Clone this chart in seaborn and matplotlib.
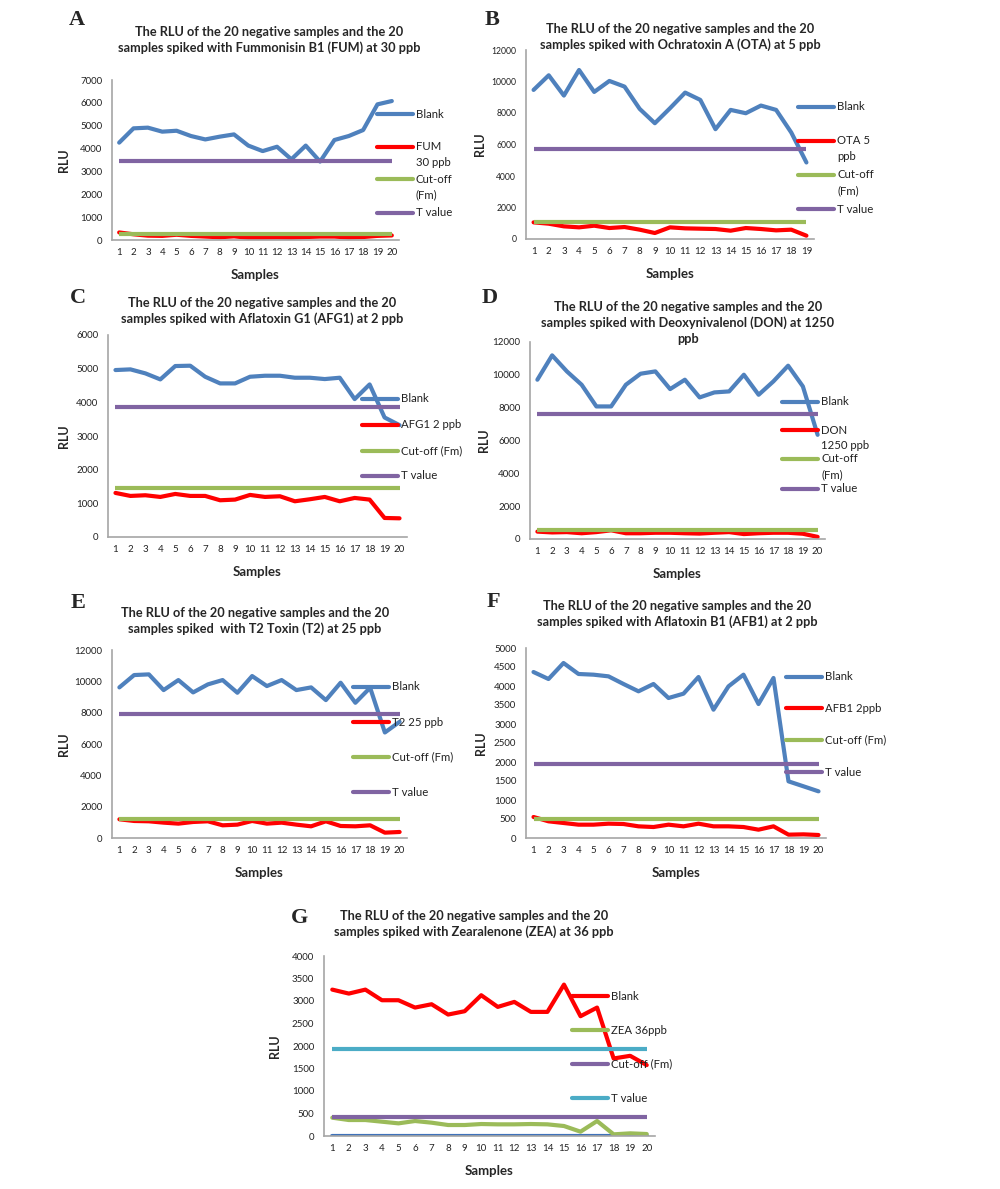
import matplotlib
matplotlib.use("Agg")
import matplotlib.pyplot as plt
from matplotlib.lines import Line2D
import seaborn as sns

# DATA
samples = list(range(1, 21))
samples_b = list(range(1, 20))

# A - FUM
a_blank = [4260, 4885, 4915, 4740, 4780, 4550, 4400, 4520, 4620, 4130,
           3890, 4080, 3530, 4130, 3430, 4375, 4550, 4810, 5935, 6080]
a_spiked = [330, 250, 190, 180, 230, 180, 150, 120, 160, 100,
            100, 110, 100, 130, 150, 150, 110, 130, 180, 200]
a_cutoff = 262
a_tvalue = 3455

# B - OTA (only 19 samples shown)
b_blank = [9465, 10394, 9106, 10732, 9338, 10035, 9676, 8261, 7352, 8303,
           9296, 8831, 6972, 8197, 7986, 8472, 8197, 6761, 4859]
b_spiked = [1056, 972, 803, 740, 845, 697, 760, 592, 380, 740,
            676, 655, 634, 528, 697, 634, 549, 592, 211]
b_cutoff = 1056
b_tvalue = 5746

# C - AFG1
c_blank = [4959, 4979, 4860, 4681, 5078, 5088, 4760, 4562, 4562, 4760,
           4790, 4790, 4731, 4731, 4691, 4731, 4096, 4532, 3550, 3322]
c_spiked = [1309, 1220, 1240, 1190, 1279, 1220, 1220, 1091, 1111, 1250,
            1190, 1210, 1061, 1121, 1190, 1061, 1160, 1111, 565, 555]
c_cutoff = 1448
c_tvalue = 3858

# D - DON
d_blank = [9702, 11186, 10210, 9397, 8075, 8075, 9397, 10068, 10210, 9132,
           9702, 8624, 8929, 8990, 10007, 8786, 9600, 10556, 9295, 6346]
d_spiked = [450, 400, 420, 350, 420, 530, 350, 350, 380, 380,
            350, 330, 380, 420, 300, 350, 380, 380, 320, 130]
d_cutoff = 549
d_tvalue = 7586

# E - T2
e_blank = [9613, 10401, 10444, 9442, 10082, 9293, 9805, 10082, 9272, 10337,
           9698, 10082, 9442, 9613, 8803, 9911, 8632, 9591, 6735, 7417]
e_spiked = [1194, 1087, 1066, 980, 917, 1023, 1066, 810, 853, 1087,
            917, 980, 853, 746, 1066, 767, 746, 810, 341, 384]
e_cutoff = 1236
e_tvalue = 7908

# F - AFB1
f_blank = [4368, 4184, 4605, 4316, 4298, 4254, 4053, 3860, 4053, 3684,
           3798, 4237, 3377, 3991, 4298, 3526, 4211, 1491, 1360, 1228]
f_spiked = [553, 439, 395, 351, 351, 377, 368, 307, 289, 351,
            307, 377, 307, 307, 289, 219, 307, 88, 96, 79]
f_cutoff = 509
f_tvalue = 1947

# G - ZEA (extra unnamed series at zero)
g_zero = [0, 0, 0, 0, 0, 0, 0, 0, 0, 0, 0, 0, 0, 0, 0, 0, 0, 0, 0, 0]
g_blank = [3253, 3165, 3253, 3017, 3017, 2854, 2928, 2699, 2773, 3128,
           2869, 2980, 2758, 2758, 3364, 2662, 2854, 1723, 1782, 1575]
g_spiked = [407, 355, 355, 318, 281, 333, 296, 244, 244, 266,
            259, 259, 266, 259, 222, 96, 333, 37, 59, 44]
g_cutoff = 414
g_tvalue = 1944

BLUE = "#4F81BD"
RED = "#FF0000"
GREEN = "#9BBB59"
PURPLE = "#8064A2"
CYAN = "#4BACC6"

sns.set_style("white")
plt.rcParams["font.family"] = ["Lato", "DejaVu Sans"]

W, H = 1000, 1189
fig = plt.figure(figsize=(W / 100, H / 100), dpi=100)


def fx(x):
    return x / W


def fy(y):
    return 1 - y / H


def make_panel(box, ymax, ystep, title, title_xy, letter, letter_xy,
               legend, leg_x, rlu_x, ytick_size=7):
    x0, x1, ytop, ybot = box
    ax = fig.add_axes([fx(x0), fy(ybot), (x1 - x0) / W, (ybot - ytop) / H])
    ax.set_ylim(0, ymax)
    ax.set_yticks(range(0, ymax + 1, ystep))
    for side in ["top", "right"]:
        ax.spines[side].set_visible(False)
    for side in ["left", "bottom"]:
        ax.spines[side].set_color("#A6A6A6")
        ax.spines[side].set_linewidth(1.2)
    ax.tick_params(axis="both", length=0, colors="#222222")
    ax.tick_params(axis="x", labelsize=7, pad=6)
    ax.tick_params(axis="y", labelsize=ytick_size, pad=7)
    ax.set_xlabel("Samples", fontsize=9.5, fontweight="bold")
    ax.set_ylabel("RLU", fontsize=9, fontweight="bold")
    ax.xaxis.set_label_coords(0.5, -29 / (ybot - ytop))
    ax.yaxis.set_label_coords(-(x0 - rlu_x) / (x1 - x0), 0.5)

    tx, ty = title_xy
    fig.text(fx(tx), fy(ty), title, ha="center", va="center",
             fontsize=9.2, fontweight="bold", linespacing=1.35)
    lx, ly = letter_xy
    fig.text(fx(lx), fy(ly), letter, ha="center", va="center",
             fontsize=16, fontweight="bold", family="Liberation Serif")

    for label_lines, color, y in legend:
        fig.add_artist(Line2D([fx(leg_x), fx(leg_x + 36)], [fy(y), fy(y)],
                              color=color, lw=3, solid_capstyle="round"))
        for i, line in enumerate(label_lines):
            fig.text(fx(leg_x + 39), fy(y + i * 16), line, ha="left",
                     va="center", fontsize=8.2, color="#222222")
    return ax


def draw(ax, xs, blank, spiked, cutoff, tvalue, cols=(BLUE, RED, GREEN, PURPLE)):
    sns.lineplot(x=xs, y=blank, ax=ax, color=cols[0], linewidth=3)
    sns.lineplot(x=xs, y=spiked, ax=ax, color=cols[1], linewidth=3)
    ax.hlines(cutoff, xs[0], xs[-1], color=cols[2], linewidth=3)
    ax.hlines(tvalue, xs[0], xs[-1], color=cols[3], linewidth=3)
    ax.set_xticks(xs)
    ax.set_xlim(xs[0] - 0.5, xs[-1] + 0.5)


T1 = "The RLU of the 20 negative samples and the 20\n"

# A
ax = make_panel((112, 399, 80, 240), 7000, 1000,
                T1 + "samples spiked with Fummonisin B1 (FUM) at 30 ppb",
                (269, 40), "A", (77, 20),
                [(["Blank"], BLUE, 114), (["FUM", "30 ppb"], RED, 147),
                 (["Cut-off", "(Fm)"], GREEN, 179), (["T value"], PURPLE, 213)],
                377, 70)
draw(ax, samples, a_blank, a_spiked, a_cutoff, a_tvalue)

# B
ax = make_panel((526, 814, 50, 239), 12000, 2000,
                T1 + "samples spiked with Ochratoxin A (OTA) at 5 ppb",
                (680, 37), "B", (492, 20),
                [(["Blank"], BLUE, 107), (["OTA 5", "ppb"], RED, 141),
                 (["Cut-off", "(Fm)"], GREEN, 175), (["T value"], PURPLE, 209)],
                798, 486, ytick_size=6.2)
draw(ax, samples_b, b_blank, b_spiked, b_cutoff, b_tvalue)

# C
ax = make_panel((108, 407, 335, 537), 6000, 1000,
                T1 + "samples spiked with Aflatoxin G1 (AFG1) at 2 ppb",
                (262, 311), "C", (78, 298),
                [(["Blank"], BLUE, 399), (["AFG1 2 ppb"], RED, 425),
                 (["Cut-off (Fm)"], GREEN, 451), (["T value"], PURPLE, 476)],
                362, 70)
draw(ax, samples, c_blank, c_spiked, c_cutoff, c_tvalue)

# D
ax = make_panel((530, 825, 342, 539), 12000, 2000,
                T1 + "samples spiked with Deoxynivalenol (DON) at 1250\nppb",
                (688, 323), "D", (490, 298),
                [(["Blank"], BLUE, 402), (["DON", "1250 ppb"], RED, 430),
                 (["Cut-off", "(Fm)"], GREEN, 459), (["T value"], PURPLE, 489)],
                782, 490)
draw(ax, samples, d_blank, d_spiked, d_cutoff, d_tvalue)

# E
ax = make_panel((112, 407, 650, 838), 12000, 2000,
                T1 + "samples spiked  with T2 Toxin (T2) at 25 ppb",
                (255, 621), "E", (78, 603),
                [(["Blank"], BLUE, 687), (["T2 25 ppb"], RED, 722),
                 (["Cut-off (Fm)"], GREEN, 757), (["T value"], PURPLE, 792)],
                353, 70)
draw(ax, samples, e_blank, e_spiked, e_cutoff, e_tvalue)

# F
ax = make_panel((526, 826, 648, 838), 5000, 500,
                T1 + "samples spiked with Aflatoxin B1 (AFB1) at 2 ppb",
                (677, 614), "F", (493, 602),
                [(["Blank"], BLUE, 677), (["AFB1 2ppb"], RED, 708),
                 (["Cut-off (Fm)"], GREEN, 740), (["T value"], PURPLE, 772)],
                786, 487)
draw(ax, samples, f_blank, f_spiked, f_cutoff, f_tvalue)

# G
ax = make_panel((324, 655, 956, 1136), 4000, 500,
                T1 + "samples spiked with Zearalenone (ZEA) at 36 ppb",
                (474, 924), "G", (300, 918),
                [(["Blank"], RED, 996), (["ZEA 36ppb"], GREEN, 1030),
                 (["Cut-off (Fm)"], PURPLE, 1064), (["T value"], CYAN, 1098)],
                572, 281)
sns.lineplot(x=samples, y=g_zero, ax=ax, color="#3F72BA", linewidth=3)
draw(ax, samples, g_blank, g_spiked, g_cutoff, g_tvalue,
     cols=(RED, GREEN, PURPLE, CYAN))

fig.savefig("out.png", dpi=100)
